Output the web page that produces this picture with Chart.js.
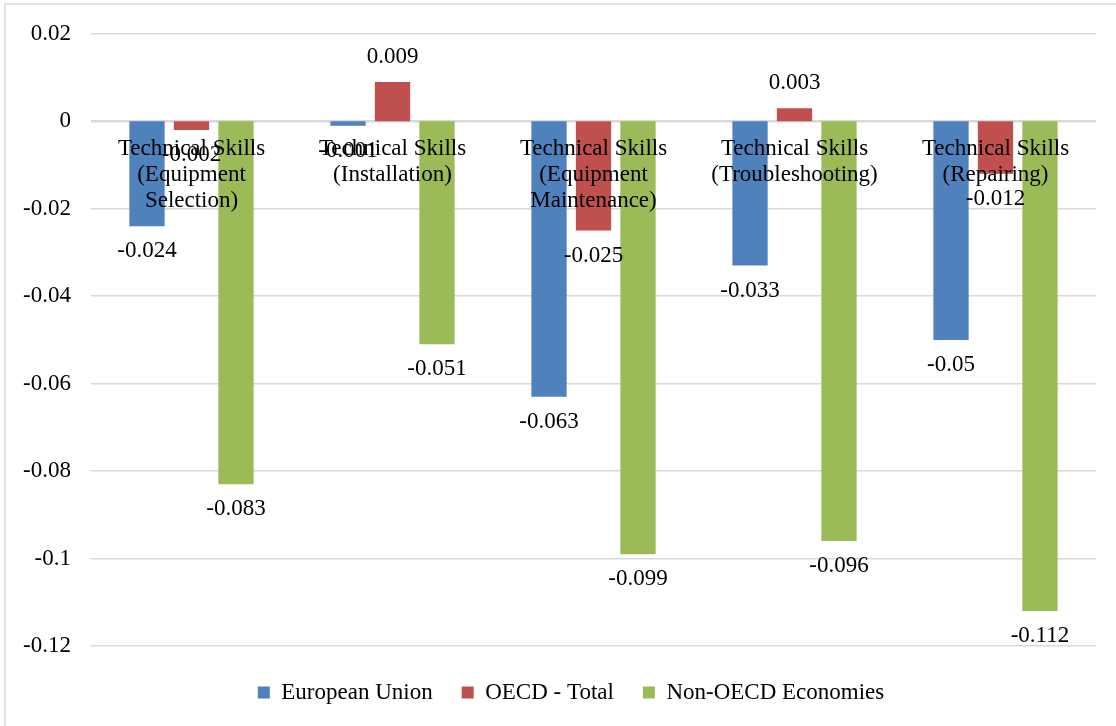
<!DOCTYPE html>
<html>
<head>
<meta charset="utf-8">
<script src="https://cdn.jsdelivr.net/npm/chart.js@4/dist/chart.umd.min.js"></script>
<style>
  html, body { margin: 0; padding: 0; background: #ffffff; }
  #wrap { position: relative; width: 1116px; height: 726px; }
</style>
</head>
<body>
<div id="wrap"><canvas id="c" width="1116" height="726"></canvas></div>
<script>
const categories = [
  ['Technical Skills', '(Equipment', 'Selection)'],
  ['Technical Skills', '(Installation)'],
  ['Technical Skills', '(Equipment', 'Maintenance)'],
  ['Technical Skills', '(Troubleshooting)'],
  ['Technical Skills', '(Repairing)']
];
const seriesNames = ['European Union', 'OECD - Total', 'Non-OECD Economies'];
const europeanUnion = [-0.024, -0.001, -0.063, -0.033, -0.05];
const oecdTotal = [-0.002, 0.009, -0.025, 0.003, -0.012];
const nonOecd = [-0.083, -0.051, -0.099, -0.096, -0.112];
const yTickLabels = ['0.02', '0', '-0.02', '-0.04', '-0.06', '-0.08', '-0.1', '-0.12'];
const seriesColors = ['#4F81BD', '#C0504D', '#9BBB59'];

const FONT = '"Liberation Serif", "Times New Roman", serif';

const frame = {
  id: 'frame',
  beforeDraw(chart) {
    const ctx = chart.ctx;
    ctx.save();
    ctx.strokeStyle = '#d9d9d9';
    ctx.lineWidth = 1.5;
    ctx.beginPath();
    ctx.moveTo(5, 1200);
    ctx.lineTo(5, 4);
    ctx.lineTo(1200, 4);
    ctx.stroke();
    ctx.restore();
  }
};

const legendShift = {
  id: 'legendShift',
  afterLayout(chart) {
    if (chart.legend) {
      chart.legend.left += 23;
      chart.legend.right += 23;
    }
  }
};

const valueLabels = {
  id: 'valueLabels',
  afterDatasetsDraw(chart) {
    const ctx = chart.ctx;
    ctx.save();
    ctx.font = '23px ' + FONT;
    ctx.fillStyle = '#000000';
    ctx.textAlign = 'center';
    ctx.textBaseline = 'middle';
    chart.data.datasets.forEach((ds, di) => {
      const meta = chart.getDatasetMeta(di);
      meta.data.forEach((bar, i) => {
        const v = ds.data[i];
        const y = v >= 0 ? bar.y - 25 : bar.y + 25;
        ctx.fillText(String(v), bar.x, y);
      });
    });
    ctx.restore();
  }
};

new Chart(document.getElementById('c'), {
  type: 'bar',
  data: {
    labels: categories,
    datasets: [
      { label: seriesNames[0], data: europeanUnion, backgroundColor: seriesColors[0], borderWidth: 0 },
      { label: seriesNames[1], data: oecdTotal, backgroundColor: seriesColors[1], borderWidth: 0 },
      { label: seriesNames[2], data: nonOecd, backgroundColor: seriesColors[2], borderWidth: 0 }
    ]
  },
  options: {
    responsive: false,
    animation: false,
    devicePixelRatio: 1,
    layout: { padding: { left: 0, right: 20, top: 32, bottom: 12 } },
    datasets: { bar: { categoryPercentage: 0.664, barPercentage: 0.793 } },
    plugins: {
      legend: {
        position: 'bottom',
        title: { display: true, text: '', padding: 0, font: { size: 5, lineHeight: 1.2 } },
        labels: {
          boxWidth: 12, boxHeight: 12, padding: 29,
          color: '#000000',
          font: { family: FONT, size: 23 }
        }
      },
      tooltip: { enabled: false }
    },
    scales: {
      x: {
        position: { y: 0 },
        grid: { display: false, drawTicks: false },
        border: { display: false },
        ticks: {
          z: 1, padding: 15, color: '#000000', maxRotation: 0, autoSkip: false,
          font: { family: FONT, size: 23, lineHeight: 1.13 }
        }
      },
      y: {
        min: -0.12, max: 0.02,
        grid: {
          drawTicks: false,
          color: '#d9d9d9',
          lineWidth: (c) => (c.tick && Math.abs(c.tick.value) < 1e-9 ? 2.5 : 1.6)
        },
        border: { display: false },
        ticks: {
          stepSize: 0.02, padding: 20, color: '#000000',
          font: { family: FONT, size: 23 },
          callback: (v, i, ticks) => yTickLabels[ticks.length - 1 - i]
        },
        afterFit(scale) { scale.width = 91; }
      }
    }
  },
  plugins: [frame, legendShift, valueLabels]
});
</script>
</body>
</html>
